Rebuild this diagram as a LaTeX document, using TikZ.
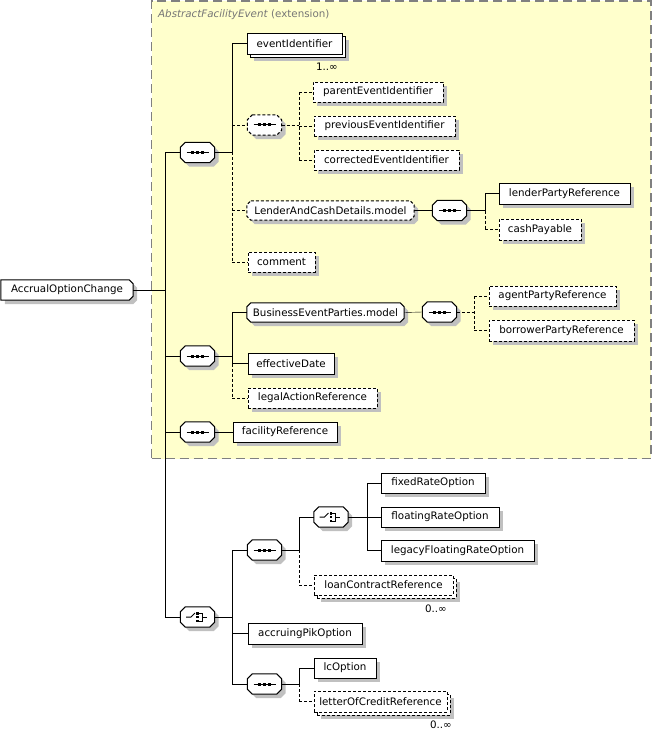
\documentclass[tikz,border=0pt]{standalone}
\usepackage{fontspec}
\setmainfont{DejaVu Sans}
\usetikzlibrary{shadows}
\definecolor{extfill}{RGB}{255,255,204}
\definecolor{extline}{RGB}{128,128,128}
\definecolor{shadowgray}{RGB}{192,192,192}
\definecolor{labelgray}{RGB}{118,118,118}
\pgfdeclarelayer{back}
\pgfdeclarelayer{bg}
\pgfsetlayers{back,bg,main}
\newcommand\seqsym[1]{%
  \begin{scope}[shift={(#1.center)}]
    \draw[line width=1pt] (-11,0) -- (11,0);
    \fill (-6.5,-1.5) rectangle (-3.5,1.5);
    \fill (-1.5,-1.5) rectangle (1.5,1.5);
    \fill (3.5,-1.5) rectangle (6.5,1.5);
  \end{scope}}
\newcommand\choicesym[1]{%
  \begin{scope}[shift={(#1.center)}]
    \draw[line width=1pt] (-11.5,0) -- (-6.5,0) -- (-2.5,-4);
    \fill (-1.5,-5) rectangle (1,-2.5);
    \fill (-1.5,-1.25) rectangle (1,1.25);
    \fill (-1.5,2.5) rectangle (1,5);
    \draw[line width=1pt] (1,-4) -- (4.5,-4) -- (4.5,4) -- (1,4);
    \draw[line width=1pt] (4.5,0) -- (9,0);
  \end{scope}}
% octagon outline round a node: #1 options, #2 node, #3 chamfer
\newcommand\octo[3]{%
  \begin{pgfonlayer}{bg}
  \path[#1] ([xshift=#3]#2.north west) -- ([xshift=-#3]#2.north east)
    -- ([yshift=-#3]#2.north east) -- ([yshift=#3]#2.south east)
    -- ([xshift=-#3]#2.south east) -- ([xshift=#3]#2.south west)
    -- ([yshift=#3]#2.south west) -- ([yshift=-#3]#2.north west) -- cycle;
  \end{pgfonlayer}}
\begin{document}
\begin{tikzpicture}[x=1pt,y=-1pt,line width=1pt,
  txt/.style={font=\fontsize{10.3}{12}\selectfont},
  shad/.style={drop shadow={shadow xshift=4pt,shadow yshift=-4pt,opacity=1,fill=shadowgray}},
  box/.style={draw,fill=white,inner sep=0pt,minimum height=21pt,txt},
  elem/.style={box,shad},
  opt/.style={dash pattern=on 3pt off 2pt},
  grpbox/.style={inner sep=0pt,minimum height=19pt,txt},
  compbox/.style={inner sep=0pt,minimum width=34pt,minimum height=20pt},
  outline/.style={draw=black,line width=1pt,fill=white,shad},
  mult/.style={anchor=base east,inner sep=0pt,txt},
]
\useasboundingbox (0,0) rectangle (652,730);

% extension area
\begin{pgfonlayer}{back}
\node[draw=extline,fill=extfill,line width=1.5pt,dash pattern=on 9pt off 5pt,
  inner sep=0pt,minimum width=499.5pt,minimum height=457.5pt] (ext) at (401.25,229.75) {};
\end{pgfonlayer}
\node[anchor=base west,inner sep=0pt,txt,text=labelgray] (extlabel) at (158,18)
  {\textit{AbstractFacilityEvent} (extension)};

% root
\node[inner sep=0pt,minimum width=132pt,minimum height=20pt,txt]
  (root) at (67,290) {AccrualOptionChange};
\begin{pgfonlayer}{bg}
\path[outline] (root.north west) -- ([xshift=-4pt]root.north east)
  -- ([yshift=-4pt]root.north east) -- ([yshift=4pt]root.south east)
  -- ([xshift=-4pt]root.south east) -- (root.south west) -- cycle;
\end{pgfonlayer}

% compositors
\node[compbox] (c1) at (197.5,152.5) {};
\node[compbox] (c1a) at (264.5,125) {};
\node[compbox] (c1b) at (449.5,210.5) {};
\node[compbox] (c2) at (197.5,356) {};
\node[compbox] (c2a) at (439.5,312) {};
\node[compbox] (c3) at (197.5,432) {};
\node[compbox] (ch1) at (197.5,617) {};
\node[compbox] (c4a) at (264.5,550) {};
\node[compbox] (ch2) at (331,517) {};
\node[compbox] (c4b) at (264.5,684) {};
\octo{outline}{c1}{5pt}
\octo{outline,opt}{c1a}{5pt}
\octo{outline}{c1b}{5pt}
\octo{outline}{c2}{5pt}
\octo{outline}{c2a}{5pt}
\octo{outline}{c3}{5pt}
\octo{outline}{ch1}{5pt}
\octo{outline}{c4a}{5pt}
\octo{outline}{ch2}{5pt}
\octo{outline}{c4b}{5pt}
\seqsym{c1}\seqsym{c1a}\seqsym{c1b}\seqsym{c2}\seqsym{c2a}\seqsym{c3}
\seqsym{c4a}\seqsym{c4b}
\choicesym{ch1}\choicesym{ch2}

% elements of first sequence
\node[elem,minimum width=95pt] (eidback) at (297.5,46.5) {};
\node[box,minimum width=95pt] (eid) at (294.5,43.5) {eventIdentifier};
\node[mult] (m1) at (338,71) {1..∞};
\node[elem,opt,minimum width=130pt,minimum height=20pt] (parent) at (378,92) {parentEventIdentifier};
\node[elem,opt,minimum width=141pt,minimum height=20pt] (prev) at (384.5,126) {previousEventIdentifier};
\node[elem,opt,minimum width=145pt,minimum height=20pt] (corr) at (386.5,160) {correctedEventIdentifier};
\node[grpbox,minimum width=167pt] (lcd) at (330.5,210.5) {LenderAndCashDetails.model};
\octo{outline,opt}{lcd}{4pt}
\node[elem,minimum width=131pt] (lender) at (564.5,193.5) {lenderPartyReference};
\node[elem,opt,minimum width=82pt] (cash) at (540,229.5) {cashPayable};
\node[elem,opt,minimum width=67pt,minimum height=20pt] (comment) at (281.5,262) {comment};

% second sequence
\node[grpbox,minimum width=157pt] (bep) at (325.5,312.5) {BusinessEventParties.model};
\octo{outline}{bep}{4pt}
\node[elem,opt,minimum width=127pt,minimum height=20pt] (agent) at (552.5,296) {agentPartyReference};
\node[elem,opt,minimum width=145pt] (borrower) at (561.5,330.5) {borrowerPartyReference};
\node[elem,minimum width=86pt] (eff) at (291,363.5) {effectiveDate};
\node[elem,opt,minimum width=129pt,minimum height=20pt] (legal) at (312.5,398) {legalActionReference};

% third sequence
\node[elem,minimum width=104pt,minimum height=20pt] (fac) at (285,432) {facilityReference};

% choice part
\node[elem,minimum width=104pt,minimum height=20pt] (fixed) at (433,483) {fixedRateOption};
\node[elem,minimum width=118pt,minimum height=20pt] (floating) at (440,517) {floatingRateOption};
\node[elem,minimum width=153pt] (legacy) at (457.5,550.5) {legacyFloatingRateOption};
\node[elem,opt,minimum width=139pt,minimum height=20pt] (loanback) at (386.5,588) {};
\node[box,opt,minimum width=139pt,minimum height=20pt] (loan) at (383.5,585) {loanContractReference};
\node[mult] (m2) at (447,612.5) {0..∞};
\node[elem,minimum width=114pt] (pik) at (305,633.5) {accruingPikOption};
\node[elem,minimum width=62pt,minimum height=20pt] (lc) at (345,668) {lcOption};
\node[elem,opt,minimum width=133pt] (locback) at (383.5,704.5) {};
\node[box,opt,minimum width=133pt] (loc) at (380.5,701.5) {letterOfCreditReference};
\node[mult] (m3) at (452,728) {0..∞};

% bus coordinates
\coordinate (b0) at (165,0);
\coordinate (b1) at (232,0);
\coordinate (b2) at (299,0);
\coordinate (b3) at (485,0);
\coordinate (b4) at (474,0);
\coordinate (b5) at (367,0);

% root trunk
\draw (root.east) -- (root.east -| b0);
\draw (c1.west -| b0) -- (ch1.west -| b0);
\draw (c1.west -| b0) -- (c1.west);
\draw (c2.west -| b0) -- (c2.west);
\draw (c3.west -| b0) -- (c3.west);
\draw (ch1.west -| b0) -- (ch1.west);

% first sequence
\draw (c1.east) -- (c1.east -| b1);
\draw (eid.west -| b1) -- (c1.east -| b1);
\draw[opt] (c1.east -| b1) -- (comment.west -| b1);
\draw (eid.west -| b1) -- (eid.west);
\draw[opt] (c1a.west -| b1) -- (c1a.west);
\draw[opt] (lcd.west -| b1) -- (lcd.west);
\draw[opt] (comment.west -| b1) -- (comment.west);
\draw[opt] (c1a.east) -- (c1a.east -| b2);
\draw[opt] (parent.west -| b2) -- (corr.west -| b2);
\draw[opt] (parent.west -| b2) -- (parent.west);
\draw[opt] (prev.west -| b2) -- (prev.west);
\draw[opt] (corr.west -| b2) -- (corr.west);
\draw (lcd.east) -- (c1b.west);
\draw (c1b.east) -- (c1b.east -| b3);
\draw (lender.west -| b3) -- (c1b.east -| b3);
\draw[opt] (c1b.east -| b3) -- (cash.west -| b3);
\draw (lender.west -| b3) -- (lender.west);
\draw[opt] (cash.west -| b3) -- (cash.west);

% second sequence
\draw (c2.east) -- (c2.east -| b1);
\draw (bep.west -| b1) -- (eff.west -| b1);
\draw[opt] (eff.west -| b1) -- (legal.west -| b1);
\draw (bep.west -| b1) -- (bep.west);
\draw (eff.west -| b1) -- (eff.west);
\draw[opt] (legal.west -| b1) -- (legal.west);
\draw (bep.east) -- (c2a.west);
\draw[opt] (c2a.east) -- (c2a.east -| b4);
\draw[opt] (agent.west -| b4) -- (borrower.west -| b4);
\draw[opt] (agent.west -| b4) -- (agent.west);
\draw[opt] (borrower.west -| b4) -- (borrower.west);

% third sequence
\draw (c3.east) -- (fac.west);

% choice
\draw (ch1.east) -- (ch1.east -| b1);
\draw (c4a.west -| b1) -- (c4b.west -| b1);
\draw (c4a.west -| b1) -- (c4a.west);
\draw (pik.west -| b1) -- (pik.west);
\draw (c4b.west -| b1) -- (c4b.west);
\draw (c4a.east) -- (c4a.east -| b2);
\draw (ch2.west -| b2) -- (c4a.east -| b2);
\draw[opt] (c4a.east -| b2) -- (loan.west -| b2);
\draw (ch2.west -| b2) -- (ch2.west);
\draw[opt] (loan.west -| b2) -- (loan.west);
\draw (ch2.east) -- (ch2.east -| b5);
\draw (fixed.west -| b5) -- (legacy.west -| b5);
\draw (fixed.west -| b5) -- (fixed.west);
\draw (floating.west -| b5) -- (floating.west);
\draw (legacy.west -| b5) -- (legacy.west);
\draw (c4b.east) -- (c4b.east -| b2);
\draw (lc.west -| b2) -- (c4b.east -| b2);
\draw[opt] (c4b.east -| b2) -- (loc.west -| b2);
\draw (lc.west -| b2) -- (lc.west);
\draw[opt] (loc.west -| b2) -- (loc.west);
\end{tikzpicture}
\end{document}
